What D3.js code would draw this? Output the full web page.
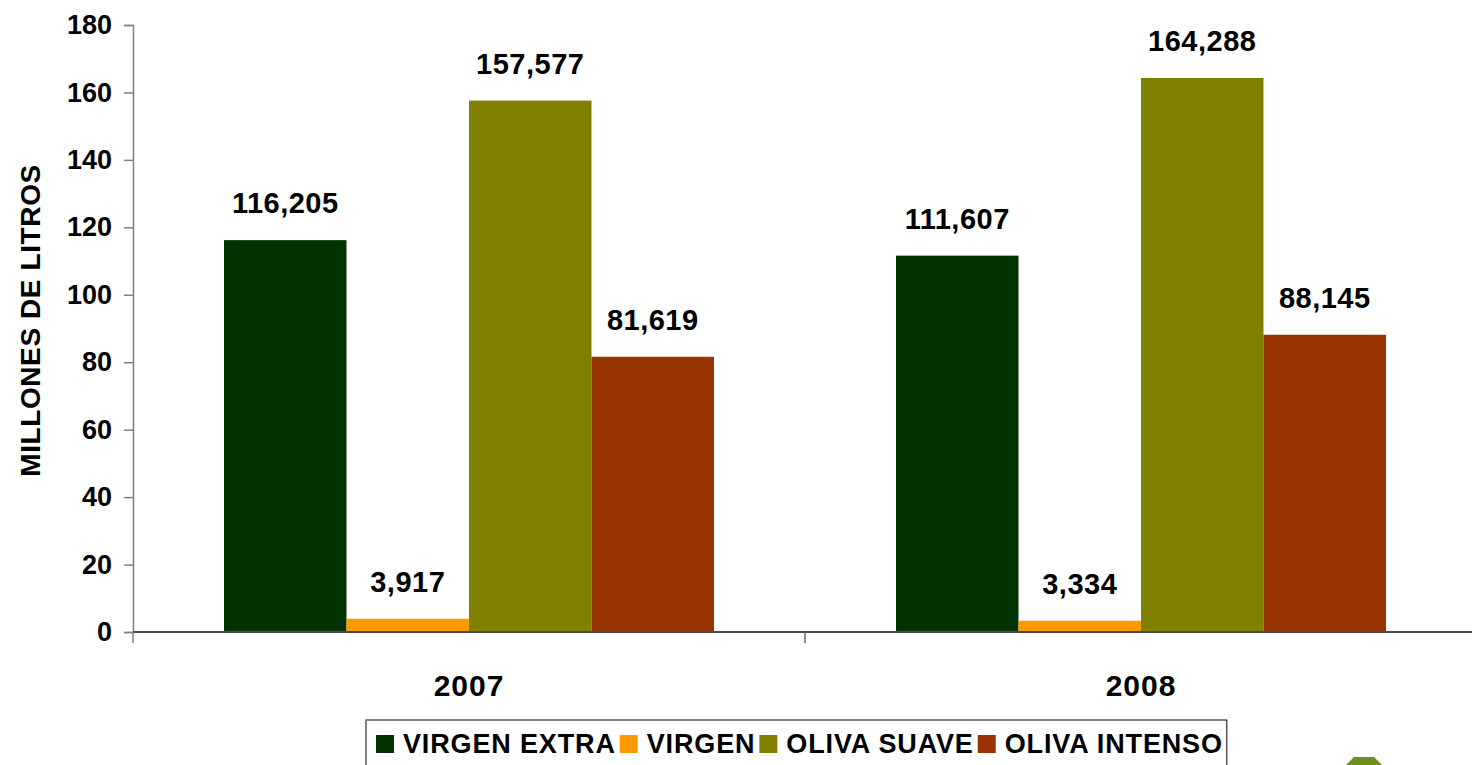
<!DOCTYPE html>
<html>
<head>
<meta charset="utf-8">
<script src="https://cdn.jsdelivr.net/npm/d3@7"></script>
<style>
  html, body { margin: 0; padding: 0; background: #fff; }
  svg { display: block; }
  text { font-family: "Comic Sans MS", "Liberation Sans", Arial, sans-serif; font-weight: bold; fill: #000; }
</style>
</head>
<body>
<div id="chart"></div>
<script>
// Consumo de aceite de oliva por tipo, millones de litros (2007-2008)

const years = ["2007", "2008"];
const types = ["VIRGEN EXTRA", "VIRGEN", "OLIVA SUAVE", "OLIVA INTENSO"];
const virgenExtra = [116.205, 111.607];
const virgen = [3.917, 3.334];
const olivaSuave = [157.577, 164.288];
const olivaIntenso = [81.619, 88.145];
const yTicks = [0, 20, 40, 60, 80, 100, 120, 140, 160, 180];
const colors = ["#003300", "#FF9900", "#808000", "#993300"];

const series = [virgenExtra, virgen, olivaSuave, olivaIntenso];
const rows = [];
years.forEach((yr, i) => {
  types.forEach((t, j) => rows.push({ year: yr, type: t, value: series[j][i] }));
});

const width = 1472;
const height = 765;
const margin = { top: 25, right: -5, bottom: 133, left: 133 };

// numbers like 116,205 (decimal comma)
const esFormat = d3.formatLocale({ decimal: ",", thousands: ".", grouping: [3], currency: ["", "€"] }).format(".3f");

const svg = d3.select("#chart")
  .append("svg")
  .attr("width", width)
  .attr("height", height);

const x0 = d3.scaleBand()
  .domain(years)
  .range([margin.left, width - margin.right])
  .padding(0);

const x1 = d3.scaleBand()
  .domain(types)
  .range([0, x0.bandwidth()])
  .paddingInner(0)
  .paddingOuter(0.743);

const y = d3.scaleLinear()
  .domain([0, 180])
  .range([height - margin.bottom, margin.top]);

const color = d3.scaleOrdinal().domain(types).range(colors);

// Bars
svg.append("g")
  .selectAll("rect")
  .data(rows)
  .enter()
  .append("rect")
  .attr("x", d => x0(d.year) + x1(d.type))
  .attr("y", d => y(d.value))
  .attr("width", x1.bandwidth())
  .attr("height", d => y(0) - y(d.value))
  .attr("fill", d => color(d.type));

// Value labels
svg.append("g")
  .selectAll("text")
  .data(rows)
  .enter()
  .append("text")
  .attr("x", d => x0(d.year) + x1(d.type) + x1.bandwidth() / 2)
  .attr("y", d => y(d.value) - 27)
  .attr("text-anchor", "middle")
  .style("font-size", "29px")
  .style("letter-spacing", "0.5px")
  .text(d => esFormat(d.value));

// Y axis
const yAxis = svg.append("g")
  .attr("transform", `translate(${margin.left},0)`)
  .call(d3.axisLeft(y).tickValues(yTicks).tickSize(9).tickPadding(12));
yAxis.select(".domain").attr("stroke", "#808080").attr("stroke-width", 1.5);
yAxis.selectAll(".tick line").attr("stroke", "#808080").attr("stroke-width", 1.5);
yAxis.selectAll(".tick text")
  .style("font-size", "27px")
  .attr("fill", "#000");

// X axis (ticks at category boundaries)
const xAxis = svg.append("g")
  .attr("transform", `translate(0,${y(0)})`);
xAxis.append("line")
  .attr("x1", margin.left)
  .attr("x2", width)
  .attr("stroke", "#4d4d4d")
  .attr("stroke-width", 2);
xAxis.selectAll("line.bound")
  .data(years)
  .enter()
  .append("line")
  .attr("class", "bound")
  .attr("x1", d => x0(d) + x0.bandwidth())
  .attr("x2", d => x0(d) + x0.bandwidth())
  .attr("y1", 0)
  .attr("y2", 11)
  .attr("stroke", "#666")
  .attr("stroke-width", 1.5);
xAxis.append("line")
  .attr("x1", margin.left).attr("x2", margin.left)
  .attr("y1", 0).attr("y2", 11)
  .attr("stroke", "#808080").attr("stroke-width", 1.5);
xAxis.selectAll("text")
  .data(years)
  .enter()
  .append("text")
  .attr("x", d => x0(d) + x0.bandwidth() / 2)
  .attr("y", 64)
  .attr("text-anchor", "middle")
  .style("font-size", "30px")
  .style("letter-spacing", "1px")
  .text(d => d);

// Y axis title
svg.append("text")
  .attr("transform", `translate(40,${(y(0) + y(180)) / 2 - 8}) rotate(-90)`)
  .attr("text-anchor", "middle")
  .style("font-size", "28px")
  .style("letter-spacing", "0.6px")
  .text("MILLONES DE LITROS");

// Legend
const legend = svg.append("g");
const legendBox = legend.append("rect")
  .attr("x", 366)
  .attr("y", 720)
  .attr("height", 80)
  .attr("fill", "#fff")
  .attr("stroke", "#000")
  .attr("stroke-width", 1);

let lx = 376;
types.forEach((t, i) => {
  legend.append("rect")
    .attr("x", lx)
    .attr("y", 735)
    .attr("width", 18)
    .attr("height", 18)
    .attr("fill", colors[i]);
  const txt = legend.append("text")
    .attr("x", lx + 27)
    .attr("y", 753)
    .style("font-size", "27px")
    .style("letter-spacing", "0.85px")
    .text(t);
  lx = lx + 27 + txt.node().getComputedTextLength() + 4;
});
legendBox.attr("width", Math.max(lx - 366, 10));
legend.append("line")
  .attr("x1", 366).attr("x2", 366)
  .attr("y1", 720).attr("y2", 765)
  .attr("stroke", "#808080").attr("stroke-width", 2);

// logo fragment at bottom right
svg.append("path")
  .attr("d", "M1346,765 L1354,757 L1374,757 L1382,765 Z")
  .attr("fill", "#6f8f1f");
</script>
</body>
</html>
